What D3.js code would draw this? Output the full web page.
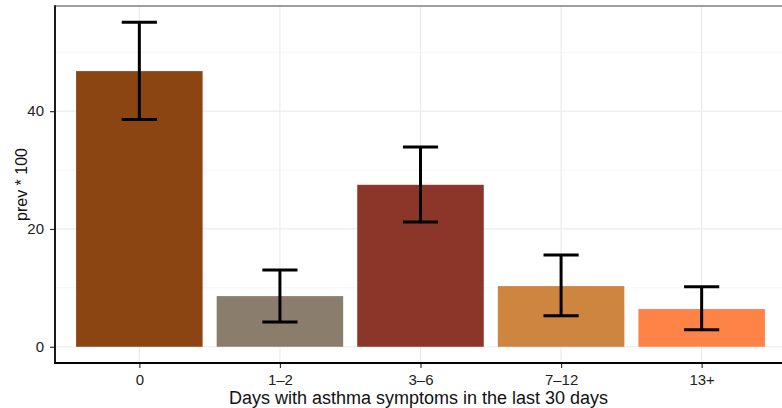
<!DOCTYPE html>
<html><head><meta charset="utf-8">
<script src="https://cdn.jsdelivr.net/npm/d3@7"></script>
<style>body{margin:0;background:#fff}svg{display:block}text{font-family:"Liberation Sans",Arial,sans-serif}</style>
</head><body><svg id="c" width="782" height="408"></svg>
<script>
const categories = ["0","1\u20132","3\u20136","7\u201312","13+"];
const prev = [46.8, 8.6, 27.5, 10.3, 6.4];
const lower = [38.6, 4.2, 21.2, 5.25, 2.9];
const upper = [55.1, 13.05, 33.9, 15.6, 10.2];
const colors = ["#8B4513","#8B7D6B","#8B3629","#CD853F","#FF8247"];
const yTicks = [0, 20, 40];
const yMinor = [10, 30, 50];

const svg = d3.select("#c");
const L = 55, R = 786, T = 6, B = 363;
const yMax = d3.max(upper), pad = yMax * 0.05;
const y = d3.scaleLinear().domain([-pad, yMax + pad]).range([B, T]);
const xc = d3.scaleLinear().domain([0.4, categories.length + 0.6]).range([L, R]);
const x = i => xc(i + 1);
const unit = xc(1) - xc(0);

const g = svg.append("g");
g.selectAll(".ymin").data(yMinor).join("line")
  .attr("x1", L).attr("x2", R).attr("y1", d => y(d)).attr("y2", d => y(d))
  .attr("stroke", "#f5f5f5").attr("stroke-width", 1);
g.selectAll(".ymaj").data(yTicks).join("line")
  .attr("x1", L).attr("x2", R).attr("y1", d => y(d)).attr("y2", d => y(d))
  .attr("stroke", "#ebebeb").attr("stroke-width", 1.2);
g.selectAll(".xg").data(categories).join("line")
  .attr("x1", (d, i) => x(i)).attr("x2", (d, i) => x(i)).attr("y1", T).attr("y2", B)
  .attr("stroke", "#ebebeb").attr("stroke-width", 1.2);

g.selectAll(".bar").data(prev).join("rect")
  .attr("x", (d, i) => x(i) - 0.45 * unit).attr("width", 0.9 * unit)
  .attr("y", d => y(d)).attr("height", d => y(0) - y(d))
  .attr("fill", (d, i) => colors[i]);

const eb = g.selectAll(".eb").data(prev).join("g");
eb.append("line").attr("x1", (d, i) => x(i)).attr("x2", (d, i) => x(i))
  .attr("y1", (d, i) => y(lower[i])).attr("y2", (d, i) => y(upper[i]))
  .attr("stroke", "#000").attr("stroke-width", 3);
eb.append("line").attr("x1", (d, i) => x(i) - 0.125 * unit).attr("x2", (d, i) => x(i) + 0.125 * unit)
  .attr("y1", (d, i) => y(upper[i])).attr("y2", (d, i) => y(upper[i]))
  .attr("stroke", "#000").attr("stroke-width", 3);
eb.append("line").attr("x1", (d, i) => x(i) - 0.125 * unit).attr("x2", (d, i) => x(i) + 0.125 * unit)
  .attr("y1", (d, i) => y(lower[i])).attr("y2", (d, i) => y(lower[i]))
  .attr("stroke", "#000").attr("stroke-width", 3);

svg.append("line").attr("x1", L).attr("x2", R).attr("y1", T).attr("y2", T)
  .attr("stroke", "#7f7f7f").attr("stroke-width", 1.5);

const ya = svg.append("g").attr("transform", `translate(${L},0)`)
  .call(d3.axisLeft(y).tickValues(yTicks).tickSize(5).tickPadding(6));
ya.select(".domain").remove();
ya.selectAll(".tick line").attr("stroke", "#333").attr("stroke-width", 1.2);
ya.selectAll(".tick text").attr("font-size", 15).attr("fill", "#222")
  .attr("font-family", "Liberation Sans, Arial, sans-serif");
svg.append("line").attr("x1", L).attr("x2", L).attr("y1", T - 0.75).attr("y2", B + 1)
  .attr("stroke", "#1a1a1a").attr("stroke-width", 2);

const xa = svg.append("g").attr("transform", `translate(0,${B})`)
  .call(d3.axisBottom(xc).tickValues(categories.map((d, i) => i + 1))
    .tickFormat((d, i) => categories[i]).tickSize(5).tickPadding(6));
xa.select(".domain").remove();
xa.selectAll(".tick line").attr("stroke", "#333").attr("stroke-width", 1.2);
xa.selectAll(".tick text").attr("font-size", 15).attr("fill", "#222")
  .attr("font-family", "Liberation Sans, Arial, sans-serif");
svg.append("line").attr("x1", L - 1).attr("x2", R).attr("y1", B).attr("y2", B)
  .attr("stroke", "#000").attr("stroke-width", 2);

svg.append("text").attr("x", (L + 782) / 2).attr("y", 404).attr("text-anchor", "middle")
  .attr("font-size", 18).attr("fill", "#111").text("Days with asthma symptoms in the last 30 days");
svg.append("text").attr("transform", `translate(27,${(T + B) / 2}) rotate(-90)`)
  .attr("text-anchor", "middle").attr("font-size", 16).attr("fill", "#111").text("prev * 100");
</script></body></html>
